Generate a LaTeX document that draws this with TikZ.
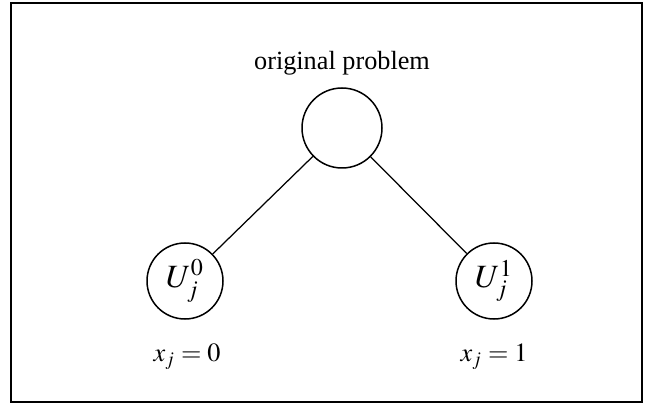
\documentclass[tikz,border=0pt]{standalone}
\usepackage{mathptmx}
\usepackage{fontspec}
\setmainfont{Liberation Serif}
\begin{document}
\begin{tikzpicture}[x=0.4pt, y=-0.4pt]
  %
  \def\rr{38}   % leaf radius (px)
  \def\rt{40}   % root radius (px)
  %
  \tikzset{
    subprob/.style={draw, circle, line width=0.6pt, minimum size={2*\rr*0.4pt},
                    inner sep=0pt, font=\fontsize{13}{15}\selectfont},
    lbl/.style={font=\fontsize{10.5}{12}\selectfont, inner sep=1pt},
    branch/.style={line width=0.5pt},
  }
  %
  % === CANVAS AND FRAME ===
  \useasboundingbox (0, 0) rectangle (645, 405);
  \draw[line width=0.6pt] (11, 3) rectangle (642, 402);
  %
  % === TREE NODES ===
  \node[subprob, minimum size={2*\rt*0.4pt}] (root) at (342, 128) {};
  \node[subprob] (left) at (185, 281) {$U_j^0$};
  \node[subprob] (right) at (494, 281) {$U_j^1$};
  %
  % === LABELS ===
  \node[lbl] (rootlbl) at (342, 63) {original problem};
  \node[lbl] (leftlbl) at (187, 357) {$x_j = 0$};
  \node[lbl] (rightlbl) at (494, 357) {$x_j = 1$};
  %
  % === BRANCHES ===
  \draw[branch] (root) -- (left);
  \draw[branch] (root) -- (right);
  %
\end{tikzpicture}
\end{document}
